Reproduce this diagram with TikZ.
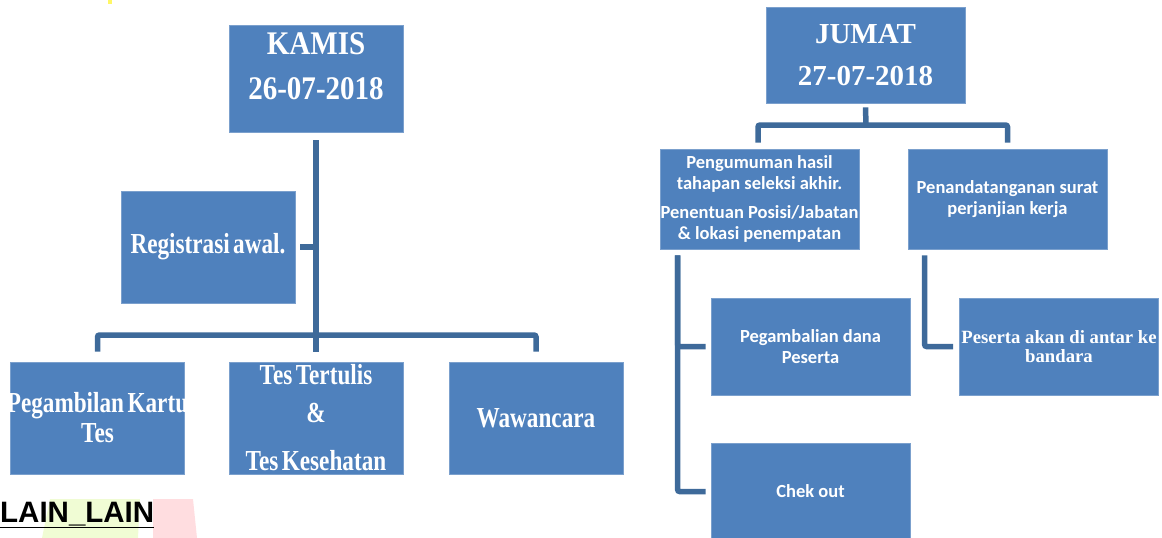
\documentclass[tikz,border=0pt]{standalone}
\usepackage{fontspec}
\setmainfont{Liberation Serif}
\newfontfamily\kamisfont[FakeStretch=0.88]{Liberation Serif}
\newfontfamily\narrowfont[FakeStretch=0.8,WordSpace=0.6]{Liberation Serif}
\newfontfamily\calfont{Carlito}
\newfontfamily\arialfont{Liberation Sans}
\usetikzlibrary{calc}

\definecolor{boxblue}{HTML}{4F81BD}
\definecolor{lineblue}{RGB}{62,106,154}
\definecolor{lainyellow}{RGB}{240,252,212}
\definecolor{lainpink}{RGB}{255,221,224}

\tikzset{
  box/.style={rectangle, fill=boxblue, draw=boxblue!75!white, line width=0.8pt,
    text=white, align=center, inner sep=0pt},
  kamisbox/.style={box, minimum width=174pt, minimum height=112pt,
    font=\narrowfont\bfseries\fontsize{29}{30}\selectfont},
  jumatbox/.style={box, minimum width=199pt, minimum height=97pt,
    font=\calfont\bfseries\fontsize{18.5}{21}\selectfont},
  link/.style={draw=lineblue, line width=5.5pt, rounded corners=2pt}
}

\begin{document}
\begin{tikzpicture}[x=1pt,y=-1pt]
\useasboundingbox (0,0) rectangle (1162,538);
%kamis
\node[box, minimum width=174pt, minimum height=107pt] (kamis) at (316,78.5) {};
\node[text=white, align=center, inner sep=0pt,
  font=\kamisfont\bfseries\fontsize{33}{45}\selectfont] (kamistxt) at ([yshift=12pt]kamis.center) {KAMIS\\26-07-2018};
\node[kamisbox] (regis) at (208,247) {Registrasi awal.};
\node[kamisbox] (kartu) at (97.5,418) {\makebox[170pt]{Pegambilan Kartu}\\Tes};
\node[kamisbox, font=\narrowfont\bfseries\fontsize{29}{38}\selectfont] (tulis) at (316,418) {Tes Tertulis\\\&\\[10pt]Tes Kesehatan};
\node[kamisbox] (wawan) at (536,418) {Wawancara};
\coordinate (kbar) at (316,335);
\draw[link] ([yshift=-8pt]kamis.south) -- ([yshift=10pt]tulis.north);
\draw[link] ([yshift=10pt]kartu.north) |- (kbar) -| ([yshift=10pt]wawan.north);
\draw[link] ([xshift=5pt]regis.east) -- (kamis.south |- regis.east);
%lain lain
\fill[lainyellow] (50,499) -- (140,499) -- (138,538) -- (42,538) -- cycle;
\fill[lainpink] (153,499) -- (193,499) -- (197,538) -- (153,538) -- cycle;
\fill[yellow!60] (108,0) rectangle (112,4);
\node[anchor=base west, inner sep=0pt, font=\arialfont\bfseries\fontsize{29.5}{30}\selectfont] (lain) at (0,522) {\underline{LAIN\_LAIN}};
%jumat
\node[box, minimum width=199pt, minimum height=96pt,
  font=\bfseries\fontsize{29}{42}\selectfont] (jumat) at (865.5,55) {JUMAT\\27-07-2018};
\node[jumatbox, minimum height=100pt] (umum) at (759.5,199) {Pengumuman hasil\\tahapan seleksi akhir.\\[8pt]Penentuan Posisi/Jabatan\\\& lokasi penempatan};
\node[jumatbox, minimum height=100pt] (tanda) at (1007.5,199) {Penandatanganan surat\\perjanjian kerja};
\node[jumatbox] (dana) at (810.5,346.5) {Pegambalian dana\\Peserta};
\node[jumatbox] (cekout) at (810.5,491.5) {Chek out};
\node[jumatbox, font=\bfseries\fontsize{18.7}{19}\selectfont] (antar) at (1059,346.5) {Peserta akan di antar ke\\bandara};
\coordinate (jbar) at (866,125);
\draw[link] ([yshift=-4pt]jumat.south) -- (jbar);
\draw[link] ([xshift=-1.5pt,yshift=6pt]umum.north) |- (jbar) -| ([yshift=6pt]tanda.north);
\draw[link] ([xshift=18pt,yshift=-6pt]umum.south west) |- ([xshift=-5pt]dana.west);
\draw[link] ([xshift=18pt,yshift=-6pt]umum.south west) |- ([xshift=-5pt]cekout.west);
\draw[link] ([xshift=17pt,yshift=-6pt]tanda.south west) |- ([xshift=-6pt]antar.west);
\end{tikzpicture}
\end{document}
